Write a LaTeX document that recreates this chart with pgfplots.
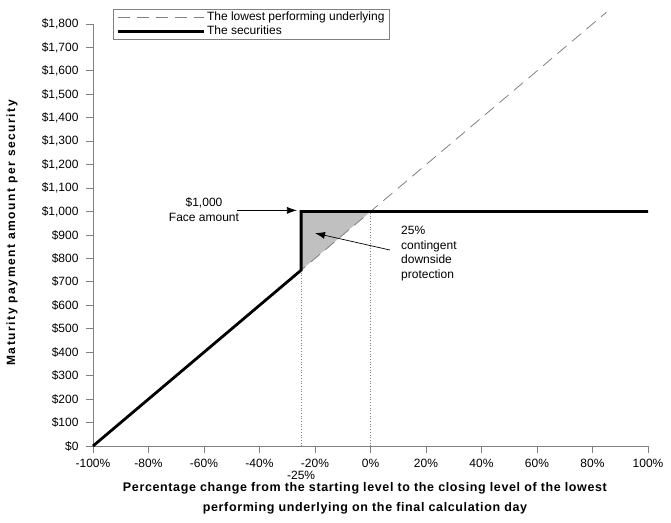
\documentclass[border=0pt]{standalone}
\usepackage{fontspec}
\setmainfont{Liberation Sans}
\usepackage{pgfplots}
\pgfplotsset{compat=1.18}
\usetikzlibrary{arrows.meta}
\definecolor{axgray}{RGB}{128,128,128}
\definecolor{fillgray}{RGB}{192,192,192}
\begin{document}
\begin{tikzpicture}[x=1pt,y=1pt]
\begin{axis}[
  at={(0pt,0pt)}, anchor=south west,
  scale only axis, width=555pt, height=422pt,
  xmin=-100, xmax=100, ymin=0, ymax=1800,
  axis x line*=bottom, axis y line*=left,
  axis line style={axgray, line width=0.8pt, -},
  clip=false,
  xtick={-100,-80,...,100},
  xticklabels={-100\%,-80\%,-60\%,-40\%,-20\%,0\%,20\%,40\%,60\%,80\%,100\%},
  ytick={0,100,...,1800},
  yticklabels={\$0,\$100,\$200,\$300,\$400,\$500,\$600,\$700,\$800,\$900,\$1{,}000,\$1{,}100,\$1{,}200,\$1{,}300,\$1{,}400,\$1{,}500,\$1{,}600,\$1{,}700,\$1{,}800},
  tick align=outside, major tick length=7pt,
  tick style={axgray, line width=0.8pt},
  tick label style={font=\fontsize{12}{14}\selectfont},
  xticklabel style={yshift=-3pt},
  yticklabel style={xshift=-4pt},
  extra x ticks={-25}, extra x tick labels={-25\%},
  extra x tick style={major tick length=0pt, tick label style={yshift=-19pt}},
  xlabel={Percentage change from the starting level to the closing level of the lowest\\performing underlying on the final calculation day},
  xlabel style={at={(axis description cs:0.49,-0.123)}, anchor=center, align=center,
    font=\bfseries\fontsize{12.5}{20}\selectfont\addfontfeatures{LetterSpace=5}},
  ylabel={Maturity payment amount per security},
  ylabel style={at={(axis description cs:-0.146,0.505)}, anchor=center,
    font=\bfseries\fontsize{12}{14}\selectfont\addfontfeatures{LetterSpace=13}},
  legend style={at={(0.036,1.036)}, anchor=north west, draw=axgray, line width=0.6pt,
    font=\fontsize{12}{14}\selectfont, inner ysep=1pt, row sep=0pt, fill=white},
  legend cell align=left,
  legend image code/.code={\draw[#1] (0pt,0pt) -- (86pt,0pt);},
]
\addplot[fill=fillgray, draw=none, forget plot] coordinates {(-25,750) (-25,1000) (0,1000)} -- cycle;
\addplot[axgray, dotted, line width=0.7pt, forget plot] coordinates {(-25,0) (-25,750)};
\addplot[axgray, dotted, line width=0.7pt, forget plot] coordinates {(0,0) (0,1000)};
\addplot[axgray, line width=0.8pt, dash pattern=on 12pt off 7pt] coordinates {(-100,0) (85,1850)};
\addlegendentry{The lowest performing underlying}
\addplot[black, line width=2.8pt, line join=miter] coordinates {(-100,0) (-25,750) (-25,1000) (100,1000)};
\addlegendentry{The securities}
\node[align=center, font=\fontsize{12}{15}\selectfont] at (axis cs:-60,1010) {\$1,000\\Face amount};
\draw[black, line width=0.7pt, -{Latex[length=10pt,width=7pt]}] (axis cs:-48,1005) -- (axis cs:-26.5,1005);
\node[align=left, anchor=north west, font=\fontsize{12}{14.5}\selectfont, inner sep=0pt] at (axis cs:11,937) {25\%\\contingent\\downside\\protection};
\draw[black, line width=0.7pt, -{Latex[length=10pt,width=7pt]}] (axis cs:7,836) -- (axis cs:-20,908);
\end{axis}
\pgfresetboundingbox
\path (-93,-76) rectangle (578,446);
\end{tikzpicture}
\end{document}
